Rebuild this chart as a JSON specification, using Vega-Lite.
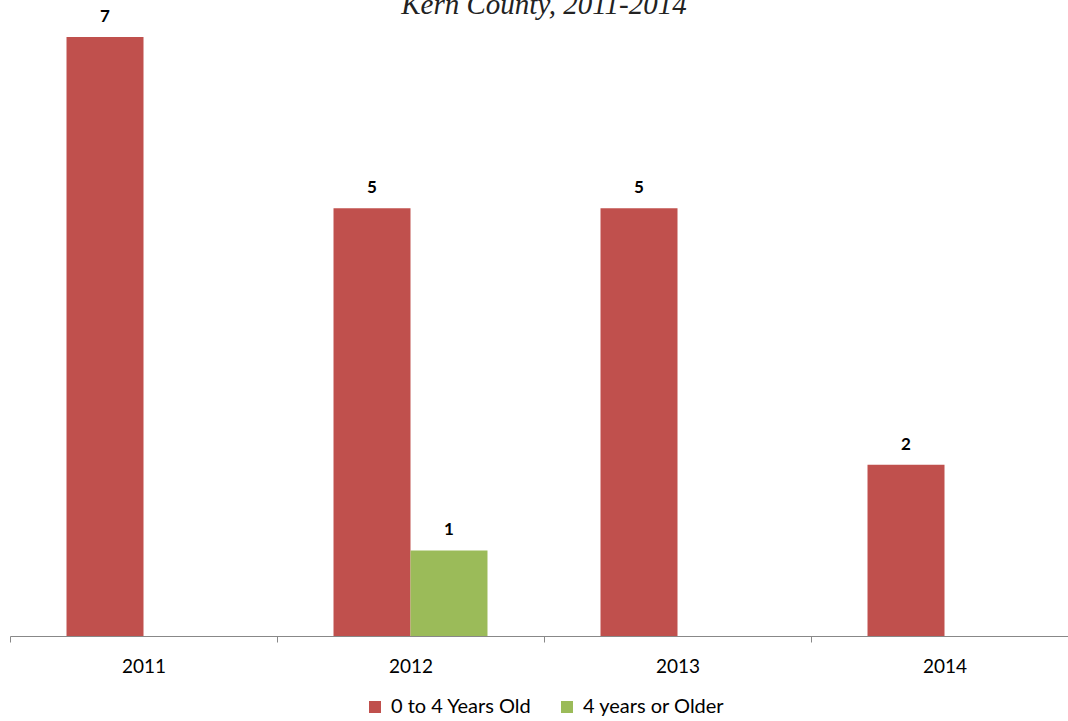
{
  "$schema": "https://vega.github.io/schema/vega-lite/v6.json",
  "autosize": "none",
  "width": 1068,
  "height": 599,
  "padding": {"left": 10, "top": 37, "right": 0, "bottom": 85},
  "background": "white",
  "config": {"view": {"stroke": null}},
  "title": {
    "text": "Kern County, 2011-2014",
    "font": "Liberation Serif",
    "fontStyle": "italic",
    "fontWeight": "normal",
    "fontSize": 29,
    "color": "#222222",
    "baseline": "alphabetic",
    "anchor": "middle",
    "offset": 0,
    "dy": 35
  },
  "data": {
    "values": [
      {"year": "2011", "group": "0 to 4 Years Old", "count": 7},
      {"year": "2012", "group": "0 to 4 Years Old", "count": 5},
      {"year": "2012", "group": "4 years or Older", "count": 1},
      {"year": "2013", "group": "0 to 4 Years Old", "count": 5},
      {"year": "2014", "group": "0 to 4 Years Old", "count": 2}
    ]
  },
  "encoding": {
    "x": {
      "field": "year",
      "type": "nominal",
      "scale": {"paddingInner": 0, "paddingOuter": 0},
      "axis": {
        "title": null,
        "labelAngle": 0,
        "labelFont": "Lato",
        "labelFontSize": 19,
        "labelColor": "#000000",
        "labelPadding": 15,
        "domainColor": "#888888",
        "tickColor": "#888888",
        "tickSize": 6,
        "tickBand": "extent",
        "grid": false
      }
    },
    "xOffset": {
      "field": "group",
      "type": "nominal",
      "scale": {"domain": ["0 to 4 Years Old", "4 years or Older"], "paddingInner": 0, "paddingOuter": 0.734}
    },
    "y": {
      "field": "count",
      "type": "quantitative",
      "scale": {"domain": [0, 7], "nice": false},
      "axis": null
    }
  },
  "layer": [
    {
      "mark": {"type": "bar"},
      "encoding": {
        "color": {
          "field": "group",
          "type": "nominal",
          "scale": {"domain": ["0 to 4 Years Old", "4 years or Older"], "range": ["#C0504D", "#9BBB59"]},
          "legend": {
            "title": null,
            "orient": "none",
            "legendX": 355,
            "legendY": 660,
            "direction": "horizontal",
            "symbolType": "square",
            "symbolSize": 144,
            "symbolStrokeWidth": 0,
            "labelFont": "Lato",
            "labelFontSize": 20,
            "labelColor": "#000000",
            "columnPadding": 25,
            "labelOffset": 6
          }
        }
      }
    },
    {
      "mark": {"type": "text", "font": "Lato", "fontWeight": "bold", "fontSize": 17, "baseline": "alphabetic", "dy": -15, "color": "#000000"},
      "encoding": {"text": {"field": "count", "type": "quantitative"}}
    }
  ]
}
